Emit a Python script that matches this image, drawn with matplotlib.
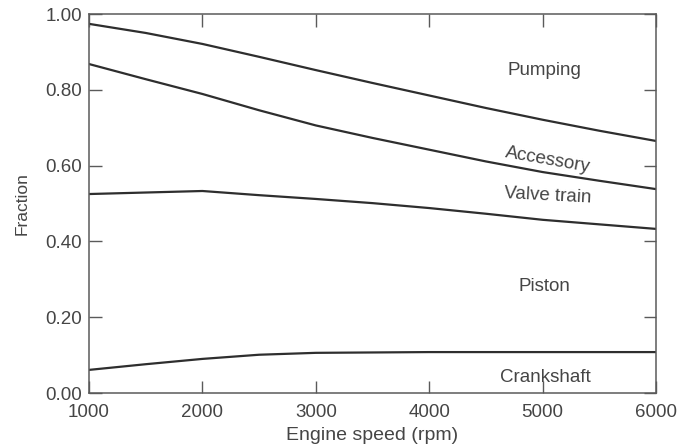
import matplotlib
matplotlib.use('Agg')
import matplotlib.pyplot as plt

# engine speed (rpm)
rpm = [1000, 1500, 2000, 2500, 3000, 3500, 4000, 4500, 5000, 5500, 6000]

# cumulative fraction boundaries
crankshaft_top = [0.061, 0.076, 0.090, 0.101, 0.106, 0.107, 0.108, 0.108, 0.108, 0.108, 0.108]
piston_top = [0.525, 0.529, 0.533, 0.522, 0.512, 0.501, 0.488, 0.473, 0.457, 0.445, 0.433]
valve_train_top = [0.868, 0.828, 0.789, 0.746, 0.706, 0.673, 0.642, 0.611, 0.583, 0.560, 0.538]
accessory_top = [0.974, 0.950, 0.921, 0.887, 0.852, 0.818, 0.785, 0.752, 0.721, 0.692, 0.665]

region_labels = ['Pumping', 'Accessory', 'Valve train', 'Piston', 'Crankshaft']
label_x = [5020, 5050, 5050, 5020, 5020]
label_y = [0.852, 0.615, 0.520, 0.280, 0.040]
label_rot = [0, -10, -3, 0, 0]

y_ticks = [0.0, 0.2, 0.4, 0.6, 0.8, 1.0]
x_ticks = [1000, 2000, 3000, 4000, 5000, 6000]

plt.rcParams['font.family'] = ['Liberation Sans', 'DejaVu Sans']
text_col = '#454545'
line_col = '#2e2e2e'

fig = plt.figure(figsize=(6.78, 4.46), dpi=100)
ax = fig.add_axes([0.1313, 0.1188, 0.8363, 0.8498])

for ys in [crankshaft_top, piston_top, valve_train_top, accessory_top]:
	ax.plot(rpm, ys, color=line_col, lw=1.6)

for lab, lx, ly, rot in zip(region_labels, label_x, label_y, label_rot):
	ax.text(lx, ly, lab, ha='center', va='center', rotation=rot,
		fontsize=13.5, color=text_col)

ax.set_xlim(1000, 6000)
ax.set_ylim(0, 1.0)
ax.set_xticks(x_ticks)
ax.set_yticks(y_ticks)
ax.set_yticklabels([f'{v:.2f}' for v in y_ticks])
ax.tick_params(direction='in', length=9, width=1.0, color='#5a5a5a',
	top=True, right=True, labelsize=13.5, labelcolor=text_col)
ax.tick_params(axis='x', pad=8)
ax.tick_params(axis='y', pad=5)
for sp in ax.spines.values():
	sp.set_color('#5a5a5a')
	sp.set_linewidth(1.1)

ax.set_xlabel('Engine speed (rpm)', fontsize=14, color=text_col, labelpad=4)
ax.set_ylabel('Fraction', fontsize=12.5, color=text_col, labelpad=11)

fig.savefig('out.png', dpi=100)
